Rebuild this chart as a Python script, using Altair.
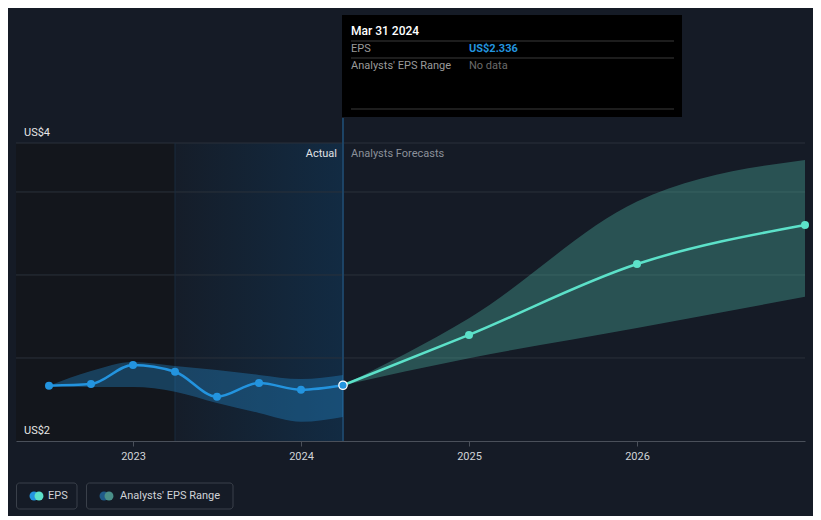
import altair as alt
import pandas as pd

# ---- data ----
past_dates = [2022.5, 2022.75, 2023.0, 2023.25, 2023.5, 2023.75, 2024.0, 2024.25]
past_eps = [2.333, 2.343, 2.458, 2.417, 2.267, 2.349, 2.309, 2.336]
past_low = [2.333, 2.325, 2.325, 2.297, 2.229, 2.169, 2.116, 2.145]
past_high = [2.333, 2.422, 2.476, 2.452, 2.428, 2.398, 2.373, 2.398]

fc_dates = [2024.25, 2025.0, 2026.0, 2027.0]
fc_eps = [2.336, 2.639, 3.066, 3.301]
fc_low = [2.336, 2.498, 2.681, 2.869]
fc_high = [2.336, 2.74, 3.442, 3.693]

year_ticks = [2023, 2024, 2025, 2026]
grid_vals = [2.5, 3.0, 3.5, 3.795]
y_label_vals = [2.0, 3.795]
y_label_text = ["US$2", "US$4"]
actual_start = 2023.25
actual_end = 2024.25

X_DOMAIN = [2022.3036, 2027.0]
Y_DOMAIN = [2.0, 3.795]

BG = "#151b26"
BLUE = "#2394df"
TEAL = "#5ce1c9"
FONT = "Roboto"

past = pd.DataFrame({"date": past_dates, "eps": past_eps, "low": past_low, "high": past_high})
fc = pd.DataFrame({"date": fc_dates, "eps": fc_eps, "low": fc_low, "high": fc_high})
ylab = pd.DataFrame({"v": y_label_vals, "t": y_label_text})
one = pd.DataFrame({"a": [0]})

xs = alt.Scale(domain=X_DOMAIN, nice=False, zero=False)
ys = alt.Scale(domain=Y_DOMAIN, nice=False, zero=False)

x_axis = alt.Axis(values=year_ticks, format="d", title=None, grid=False,
                  labelColor="#d0d3d8", labelFontSize=11, labelFont=FONT,
                  tickColor="#4a505a", tickSize=5, domainColor="#4a505a",
                  labelPadding=4)

# region backgrounds
regions = pd.DataFrame({"x0": [X_DOMAIN[0]], "x1": [actual_start], "x2": [actual_end]})
dark = alt.Chart(regions).mark_rect(color="#13161c").encode(
    x=alt.X("x0:Q", scale=xs, axis=x_axis),
    x2="x1:Q",
    y=alt.value(0), y2=alt.value(298),
)
grad = alt.Chart(regions).mark_rect(
    color=alt.LinearGradient(gradient="linear",
                             stops=[alt.GradientStop(color="#151d29", offset=0),
                                    alt.GradientStop(color="#122b43", offset=1)],
                             x1=0, x2=1, y1=0, y2=0)
).encode(x=alt.X("x1:Q", scale=xs), x2="x2:Q", y=alt.value(0), y2=alt.value(298))

grid = alt.Chart(pd.DataFrame({"v": grid_vals})).mark_rule(color="#2b313b", strokeWidth=1).encode(
    y=alt.Y("v:Q", scale=ys, axis=None))

ylabels = alt.Chart(ylab).mark_text(align="left", baseline="bottom", dy=-5,
                                    color="#e6e6e6", fontSize=11, font=FONT).encode(
    y=alt.Y("v:Q", scale=ys, axis=None), x=alt.value(8), text="t:N")

rule_start = alt.Chart(regions).mark_rule(color="#1b2c3e", strokeWidth=1).encode(
    x=alt.X("x1:Q", scale=xs), y=alt.value(0), y2=alt.value(298))
rule_end = alt.Chart(regions).mark_rule(color="#1d4466", strokeWidth=2).encode(
    x=alt.X("x2:Q", scale=xs), y=alt.value(-25), y2=alt.value(298))

band_past = alt.Chart(past).mark_area(color=BLUE, opacity=0.33, interpolate="monotone").encode(
    x=alt.X("date:Q", scale=xs), y=alt.Y("low:Q", scale=ys, axis=None), y2="high:Q")
band_fc = alt.Chart(fc).mark_area(color=TEAL, opacity=0.28, interpolate="monotone").encode(
    x=alt.X("date:Q", scale=xs), y=alt.Y("low:Q", scale=ys, axis=None), y2="high:Q")

line_past = alt.Chart(past).mark_line(color=BLUE, strokeWidth=2.5, interpolate="monotone").encode(
    x=alt.X("date:Q", scale=xs), y=alt.Y("eps:Q", scale=ys, axis=None))
line_fc = alt.Chart(fc).mark_line(color=TEAL, strokeWidth=2.5, interpolate="monotone").encode(
    x=alt.X("date:Q", scale=xs), y=alt.Y("eps:Q", scale=ys, axis=None))

pts_past = alt.Chart(past.iloc[:-1]).mark_circle(color=BLUE, size=64, opacity=1).encode(
    x=alt.X("date:Q", scale=xs), y=alt.Y("eps:Q", scale=ys, axis=None))
pts_fc = alt.Chart(fc.iloc[1:]).mark_circle(color=TEAL, size=64, opacity=1).encode(
    x=alt.X("date:Q", scale=xs), y=alt.Y("eps:Q", scale=ys, axis=None))
pt_last = alt.Chart(past.iloc[-1:]).mark_point(filled=True, fill=BLUE, stroke="white",
                                               strokeWidth=1.3, size=70, opacity=1).encode(
    x=alt.X("date:Q", scale=xs), y=alt.Y("eps:Q", scale=ys, axis=None))

lbl_actual = alt.Chart(regions).mark_text(align="right", baseline="middle", dx=-6,
                                          color="#e0e2e6", fontSize=11, font=FONT).encode(
    x=alt.X("x2:Q", scale=xs), y=alt.value(11), text=alt.value("Actual"))
lbl_fc = alt.Chart(regions).mark_text(align="left", baseline="middle", dx=8,
                                      color="#8b9099", fontSize=11, font=FONT).encode(
    x=alt.X("x2:Q", scale=xs), y=alt.value(11), text=alt.value("Analysts Forecasts"))


def txt(s, x, y, color, size=11, weight="normal", align="left"):
    return alt.Chart(one).mark_text(align=align, baseline="middle", color=color,
                                    fontSize=size, fontWeight=weight, font=FONT).encode(
        x=alt.value(x), y=alt.value(y), text=alt.value(s))


def hline(x0, x1, y, color):
    return alt.Chart(one).mark_rule(color=color, strokeWidth=1).encode(
        x=alt.value(x0), x2=alt.value(x1), y=alt.value(y))


def box(x0, x1, y0, y1, fill=None, stroke=None, radius=0):
    kw = {"cornerRadius": radius}
    if fill:
        kw["fill"] = fill
    else:
        kw["fillOpacity"] = 0
        kw["fill"] = BG
    if stroke:
        kw["stroke"] = stroke
        kw["strokeWidth"] = 1
    return alt.Chart(one).mark_rect(**kw).encode(
        x=alt.value(x0), x2=alt.value(x1), y=alt.value(y0), y2=alt.value(y1))


def dot(x, y, color, size=80):
    return alt.Chart(one).mark_circle(color=color, size=size, opacity=1).encode(
        x=alt.value(x), y=alt.value(y))


tooltip = [
    box(326, 666, -128, -26, fill="#000000"),
    txt("Mar 31 2024", 335, -112, "#ffffff", 12, 500),
    hline(335, 658, -102, "#3a3a3a"),
    txt("EPS", 335, -94, "#9a9a9a"),
    txt("US$2.336", 453, -94, BLUE, 11, "bold"),
    hline(335, 658, -85, "#3a3a3a"),
    txt("Analysts' EPS Range", 335, -77, "#9a9a9a"),
    txt("No data", 453, -77, "#6b6b6b"),
    hline(335, 658, -34, "#3a3a3a"),
]

legend = [
    box(0.5, 61, 340, 366, stroke="#3a404a", radius=3),
    dot(18, 353, BLUE), dot(23, 353, TEAL),
    txt("EPS", 32, 353, "#d0d3d8"),
    box(70.5, 217, 340, 366, stroke="#3a404a", radius=3),
    dot(88, 353, "#1f5a88"), dot(93, 353, "#4a8f88"),
    txt("Analysts' EPS Range", 104, 353, "#d0d3d8"),
]

chart = alt.layer(
    dark, grad, grid, ylabels, rule_start, rule_end,
    band_past, band_fc, line_past, line_fc, pts_past, pts_fc, pt_last,
    lbl_actual, lbl_fc, *tooltip, *legend
).properties(
    width=789, height=298,
    autosize=alt.AutoSizeParams(type="none"),
    padding={"left": 8, "top": 135, "right": 8, "bottom": 75},
    background=BG,
).configure_view(stroke=None)

chart.save("out.html", embed_options={"renderer": "svg", "actions": False})
